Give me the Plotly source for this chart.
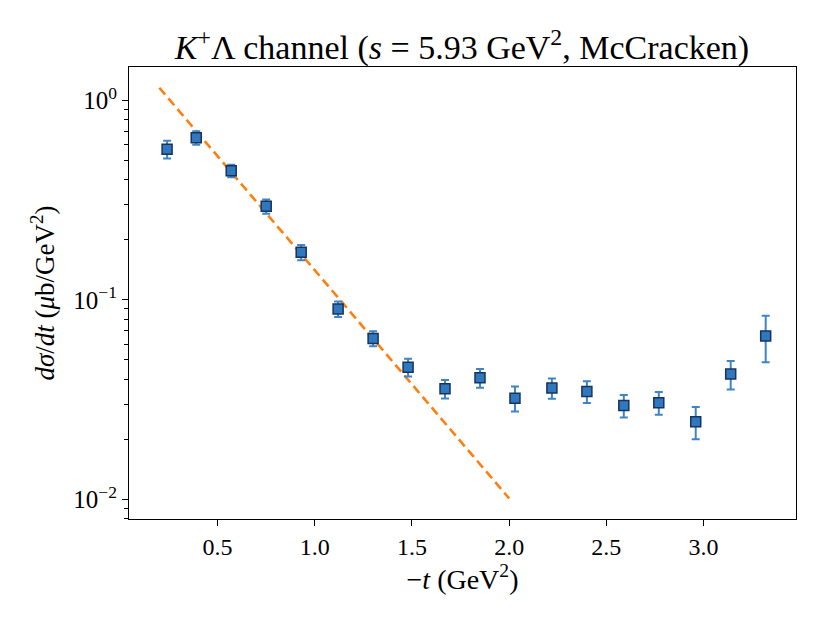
import plotly.graph_objects as go

# Data
t_vals = [0.24, 0.39, 0.57, 0.75, 0.93, 1.12, 1.30, 1.48, 1.67, 1.85, 2.03,
          2.22, 2.40, 2.59, 2.77, 2.96, 3.14, 3.32]
dsdt = [0.569, 0.649, 0.443, 0.294, 0.173, 0.090, 0.064, 0.0459, 0.0358,
        0.0406, 0.0321, 0.0361, 0.0347, 0.0295, 0.0305, 0.0245, 0.0424, 0.0659]
dsdt_err = [0.058, 0.050, 0.032, 0.024, 0.015, 0.008, 0.0055, 0.0047, 0.0038,
            0.0044, 0.0046, 0.0042, 0.0043, 0.0038, 0.0040, 0.0045, 0.0069, 0.0173]

fit_t = [0.2, 2.0]
fit_y = [1.156, 0.0101]

y_tickvals = [1.0, 0.1, 0.01]
y_ticktext = ["10<sup>0</sup>", "10<sup>\u22121</sup>", "10<sup>\u22122</sup>"]
x_tickvals = [0.5, 1.0, 1.5, 2.0, 2.5, 3.0]
x_ticktext = ["0.5", "1.0", "1.5", "2.0", "2.5", "3.0"]

minor_vals = [k * 10.0 ** e for e in (-3, -2, -1, 0) for k in range(2, 10)]

FONT = "Liberation Serif"

fig = go.Figure()
fig.add_trace(go.Scatter(
    x=fit_t, y=fit_y, mode="lines",
    line=dict(color="#ff7f0e", width=2.6, dash="9px,5px"),
    showlegend=False,
))
fig.add_trace(go.Scatter(
    x=t_vals, y=dsdt, mode="markers",
    marker=dict(symbol="square", size=10, color="#2f78bd",
                line=dict(color="#17335e", width=1.5)),
    error_y=dict(type="data", array=dsdt_err, visible=True,
                 color="#3d85c6", thickness=2, width=4),
    showlegend=False,
))

fig.update_layout(
    width=830, height=623,
    margin=dict(l=121, r=42, t=59, b=112),
    paper_bgcolor="white", plot_bgcolor="white",
    font=dict(family=FONT, color="black", size=24),
    title=dict(
        text="<i>K</i><sup>+</sup>\u039b channel (<i>s</i> = 5.93 GeV<sup>2</sup>, McCracken)",
        x=0.547, xanchor="center", y=0.937, yanchor="middle",
        font=dict(family=FONT, size=34, color="black"),
    ),
)
fig.update_xaxes(
    range=[0.044, 3.476],
    tickmode="array", tickvals=x_tickvals, ticktext=x_ticktext,
    ticks="outside", ticklen=6, tickwidth=1, tickcolor="black",
    showline=True, linecolor="black", linewidth=1.2, mirror=True,
    showgrid=False, zeroline=False,
    tickfont=dict(family=FONT, size=24),
    title=dict(text="\u2212<i>t</i> (GeV<sup>2</sup>)", font=dict(family=FONT, size=28), standoff=4),
)
fig.update_yaxes(
    type="log", range=[-2.099, 0.167],
    tickmode="array", tickvals=y_tickvals, ticktext=y_ticktext,
    ticks="outside", ticklen=6, tickwidth=1, tickcolor="black",
    minor=dict(tickmode="array", tickvals=minor_vals, ticks="outside",
               ticklen=3.5, tickwidth=0.8, tickcolor="black", showgrid=False),
    showline=True, linecolor="black", linewidth=1.2, mirror=True,
    showgrid=False, zeroline=False,
    tickfont=dict(family=FONT, size=25),
    title=dict(text="<i>d\u03c3</i>/<i>dt</i> (<i>\u03bc</i>b/GeV<sup>2</sup>)", font=dict(family=FONT, size=27), standoff=10),
)

fig.write_html("out.html")
